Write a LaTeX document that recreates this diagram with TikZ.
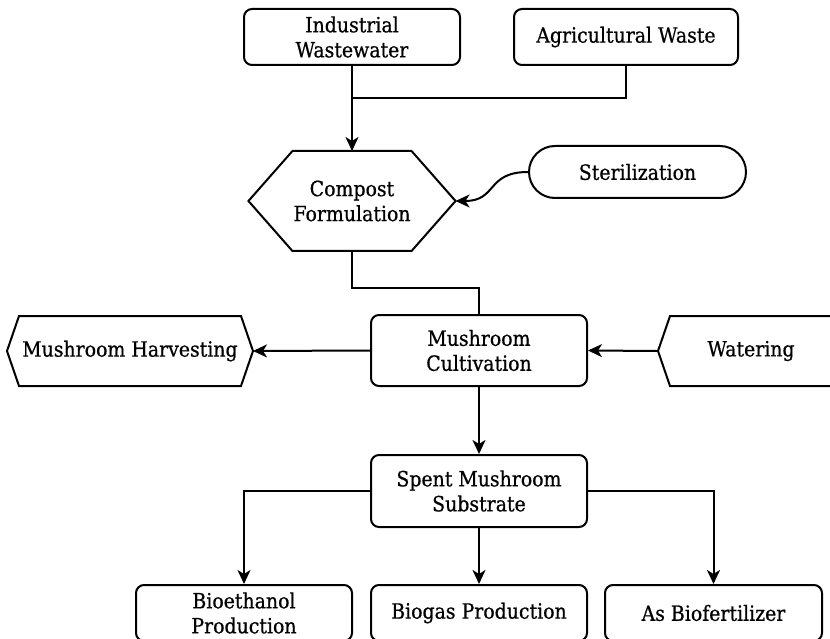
\documentclass[tikz,border=0pt]{standalone}
\usepackage{fontspec}
\setmainfont{DejaVu Serif}[FakeStretch=0.9,FakeBold=0.6]
\usetikzlibrary{arrows.meta}
\begin{document}
\begin{tikzpicture}[x=1pt,y=-1pt,line width=2pt,
  txt/.style={align=center,inner sep=0pt,font=\fontsize{21}{25}\selectfont},
  box/.style={txt,draw,rounded corners=8pt},
  hexin/.style={txt},
  arr/.style={-{Stealth[length=14pt,width=13pt,inset=4pt]}}]
\useasboundingbox (0,0) rectangle (830,639);
\clip (0,0) rectangle (830,639);
% nodes
\node[box,minimum width=216pt,minimum height=56pt] (iw) at (352,37) {Industrial\\Wastewater};
\node[box,minimum width=224pt,minimum height=56pt] (aw) at (626,37) {Agricultural Waste};
\node[hexin,minimum width=110pt,minimum height=98pt] (cf) at (352,201) {Compost\\Formulation};
\draw (cf.north west) -- (cf.north east) -- ([xshift=44pt]cf.east) coordinate (cftip)
      -- (cf.south east) -- (cf.south west) -- ([xshift=-44pt]cf.west) -- cycle;
\node[box,rounded corners=26pt,minimum width=217pt,minimum height=52pt] (st) at (637.5,172) {Sterilization};
\node[box,minimum width=216pt,minimum height=71pt] (mc) at (479,350.5) {Mushroom\\Cultivation};
\node[hexin,minimum width=220pt,minimum height=68pt] (mh) at (130,351) {Mushroom Harvesting};
\draw (mh.north west) -- (mh.north east) -- ([xshift=12pt]mh.east) coordinate (mhtip)
      -- (mh.south east) -- (mh.south west) -- ([xshift=-12pt]mh.west) -- cycle;
\node[hexin,minimum width=160pt,minimum height=68pt] (wa) at (751,351) {Watering};
\draw (wa.north west) -- (wa.north east) -- ([xshift=12pt]wa.east)
      -- (wa.south east) -- (wa.south west) -- ([xshift=-12pt]wa.west) coordinate (watip) -- cycle;
\node[box,minimum width=216pt,minimum height=72pt] (sms) at (479,491) {Spent Mushroom\\Substrate};
\node[box,minimum width=216pt,minimum height=56pt] (be) at (244,613) {Bioethanol\\Production};
\node[box,minimum width=216pt,minimum height=56pt] (bg) at (479,613) {Biogas Production};
\node[box,minimum width=217pt,minimum height=56pt] (bf) at (713.5,613) {As Biofertilizer};
% connectors
\coordinate (j) at (352,98);
\draw (aw.south) |- (j);
\draw[arr] (iw.south) -- (cf.north);
\draw[arr] (st.west) .. controls +(-42,0) and +(42,0) .. (cftip);
\draw (cf.south) -- ++(0,37) -| (mc.north);
\draw[arr] (mc.west) -- (mhtip);
\draw[arr] (watip) -- (mc.east);
\draw[arr] (mc.south) -- (sms.north);
\draw[arr] (sms.west) -| (be.north);
\draw[arr] (sms.south) -- (bg.north);
\draw[arr] (sms.east) -| (bf.north);
\end{tikzpicture}
\end{document}
